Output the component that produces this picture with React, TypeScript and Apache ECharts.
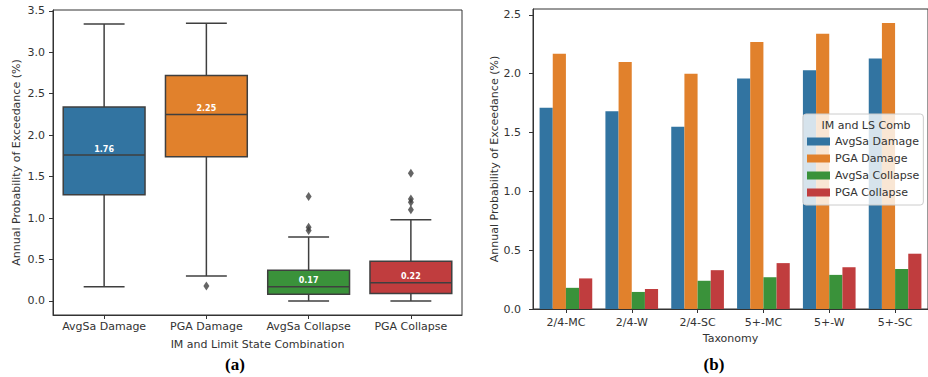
import React, { useEffect, useRef } from 'react';
import * as echarts from 'echarts';

// ---- Panel (a): box plot data ----
const boxCategories = ['AvgSa Damage', 'PGA Damage', 'AvgSa Collapse', 'PGA Collapse'];
const whiskerLow = [0.17, 0.3, 0.0, 0.0];
const quartile1 = [1.28, 1.74, 0.08, 0.09];
const medians = [1.76, 2.25, 0.17, 0.22];
const quartile3 = [2.34, 2.72, 0.37, 0.48];
const whiskerHigh = [3.34, 3.35, 0.77, 0.98];
const outlierCategory = [1, 2, 2, 2, 3, 3, 3, 3];
const outlierValues = [0.18, 1.26, 0.89, 0.85, 1.54, 1.23, 1.19, 1.1];
const leftTicks = [0, 0.5, 1.0, 1.5, 2.0, 2.5, 3.0, 3.5];

// ---- Panel (b): grouped bars ----
const taxonomy = ['2/4-MC', '2/4-W', '2/4-SC', '5+-MC', '5+-W', '5+-SC'];
const avgSaDamage = [1.71, 1.68, 1.55, 1.96, 2.03, 2.13];
const pgaDamage = [2.17, 2.1, 2.0, 2.27, 2.34, 2.43];
const avgSaCollapse = [0.18, 0.145, 0.24, 0.27, 0.29, 0.34];
const pgaCollapse = [0.26, 0.17, 0.33, 0.39, 0.355, 0.47];
const rightTicks = [0, 0.5, 1.0, 1.5, 2.0, 2.5];
const seriesNames = ['AvgSa Damage', 'PGA Damage', 'AvgSa Collapse', 'PGA Collapse'];

const colors = ['#3274a1', '#e1812c', '#3a923a', '#c03d3e'];
const edge = '#3f3f3f';
const textColor = '#333';
const FONT = 'DejaVu Sans';

export default function App() {
  const ref = useRef<HTMLDivElement>(null);
  useEffect(() => {
    const chart = echarts.init(ref.current!, null, { renderer: 'svg' });
    const axisText = { color: textColor, fontSize: 11, fontFamily: FONT };
    const option: any = {
      animation: false,
      backgroundColor: '#fff',
      textStyle: { fontFamily: FONT },
      grid: [
        { left: 53, top: 10, width: 409, height: 305, show: true, borderColor: '#333', borderWidth: 1, backgroundColor: 'transparent' },
        { left: 533, top: 9, width: 402, height: 300, show: true, borderColor: '#333', borderWidth: 1, backgroundColor: 'transparent' },
      ],
      xAxis: [
        {
          type: 'category', gridIndex: 0, data: boxCategories,
          name: 'IM and Limit State Combination', nameLocation: 'middle', nameGap: 24,
          nameTextStyle: axisText,
          axisLine: { show: true, onZero: false, lineStyle: { color: '#333' } },
          axisTick: { show: true, alignWithLabel: true, length: 4, lineStyle: { color: '#333' } },
          axisLabel: { ...axisText, margin: 6, interval: 0 },
        },
        {
          type: 'category', gridIndex: 1, data: taxonomy,
          name: 'Taxonomy', nameLocation: 'middle', nameGap: 24,
          nameTextStyle: axisText,
          axisLine: { show: true, onZero: false, lineStyle: { color: '#333' } },
          axisTick: { show: true, alignWithLabel: true, length: 4, lineStyle: { color: '#333' } },
          axisLabel: { ...axisText, margin: 8, interval: 0 },
        },
      ],
      yAxis: [
        {
          type: 'value', gridIndex: 0, min: -0.17, max: 3.51,
          name: 'Annual Probability of Exceedance (%)', nameLocation: 'middle', nameGap: 31,
          nameTextStyle: axisText,
          splitLine: { show: false },
          axisLine: { show: true, onZero: false, lineStyle: { color: '#333' } },
          axisTick: { show: true, length: 4, customValues: leftTicks, lineStyle: { color: '#333' } },
          axisLabel: { ...axisText, margin: 8, customValues: leftTicks, formatter: (v: number) => v.toFixed(1) },
        },
        {
          type: 'value', gridIndex: 1, min: 0, max: 2.55,
          name: 'Annual Probability of Exceedance (%)', nameLocation: 'middle', nameGap: 32,
          nameTextStyle: axisText,
          splitLine: { show: false },
          axisLine: { show: true, onZero: false, lineStyle: { color: '#333' } },
          axisTick: { show: true, length: 4, customValues: rightTicks, lineStyle: { color: '#333' } },
          axisLabel: { ...axisText, margin: 12, customValues: rightTicks, formatter: (v: number) => v.toFixed(1) },
        },
      ],
      legend: {
        orient: 'vertical', left: 803, top: 114,
        data: seriesNames,
        icon: 'rect', itemWidth: 23, itemHeight: 8, itemGap: 4,
        padding: [21, 4, 6, 4],
        backgroundColor: 'rgba(255,255,255,0.8)',
        borderColor: '#cccccc', borderWidth: 1, borderRadius: 3,
        textStyle: { color: textColor, fontSize: 11, fontFamily: FONT, lineHeight: 13 },
        z: 10,
      },
      graphic: [
        {
          type: 'text', z: 100, x: 866, y: 125,
          style: { text: 'IM and LS Comb', align: 'center', verticalAlign: 'middle', fill: textColor, fontSize: 11, fontFamily: FONT },
        },
        {
          type: 'text', z: 100, x: 235, y: 364,
          style: { text: '(a)', align: 'center', verticalAlign: 'middle', fill: '#000', fontSize: 17, fontWeight: 'bold', fontFamily: 'Liberation Serif' },
        },
        {
          type: 'text', z: 100, x: 714, y: 364,
          style: { text: '(b)', align: 'center', verticalAlign: 'middle', fill: '#000', fontSize: 17, fontWeight: 'bold', fontFamily: 'Liberation Serif' },
        },
      ],
      series: [
        {
          type: 'custom', name: 'boxes', xAxisIndex: 0, yAxisIndex: 0,
          encode: { x: 0, y: [1, 2, 3, 4, 5] },
          data: boxCategories.map((_, i) => [i, whiskerLow[i], quartile1[i], medians[i], quartile3[i], whiskerHigh[i]]),
          renderItem: (params: any, api: any) => {
            const i = api.value(0);
            const band = api.size([1, 0])[0];
            const half = band * 0.4;
            const capHalf = band * 0.2;
            const pLow = api.coord([i, api.value(1)]);
            const x = pLow[0];
            const yLow = pLow[1];
            const yQ1 = api.coord([i, api.value(2)])[1];
            const yMed = api.coord([i, api.value(3)])[1];
            const yQ3 = api.coord([i, api.value(4)])[1];
            const yHigh = api.coord([i, api.value(5)])[1];
            const ls = { stroke: edge, lineWidth: 1.5, fill: 'none' };
            return {
              type: 'group',
              children: [
                { type: 'line', shape: { x1: x, y1: yQ3, x2: x, y2: yHigh }, style: ls },
                { type: 'line', shape: { x1: x, y1: yQ1, x2: x, y2: yLow }, style: ls },
                { type: 'line', shape: { x1: x - capHalf, y1: yHigh, x2: x + capHalf, y2: yHigh }, style: ls },
                { type: 'line', shape: { x1: x - capHalf, y1: yLow, x2: x + capHalf, y2: yLow }, style: ls },
                { type: 'rect', shape: { x: x - half, y: yQ3, width: 2 * half, height: yQ1 - yQ3 }, style: { fill: colors[i], stroke: edge, lineWidth: 1.5 } },
                { type: 'line', shape: { x1: x - half, y1: yMed, x2: x + half, y2: yMed }, style: ls },
                {
                  type: 'text', z2: 10,
                  style: { text: medians[i].toFixed(2), x, y: yMed - 6, align: 'center', verticalAlign: 'middle', fill: '#fff', fontSize: 8, fontWeight: 'bold', fontFamily: FONT },
                },
              ],
            };
          },
        },
        {
          type: 'scatter', name: 'outliers', xAxisIndex: 0, yAxisIndex: 0,
          symbol: 'diamond', symbolSize: [6, 9],
          itemStyle: { color: edge },
          data: outlierValues.map((v, k) => [outlierCategory[k], v]),
        },
        ...[avgSaDamage, pgaDamage, avgSaCollapse, pgaCollapse].map((d, k) => ({
          type: 'bar', name: seriesNames[k], xAxisIndex: 1, yAxisIndex: 1,
          data: d, barGap: '0%', barCategoryGap: '20%',
          itemStyle: { color: colors[k] },
        })),
      ],
    };
    chart.setOption(option);
    return () => chart.dispose();
  }, []);
  return <div ref={ref} style={{ position: 'fixed', left: 0, top: 0, width: 928, height: 377, background: '#fff' }} />;
}
